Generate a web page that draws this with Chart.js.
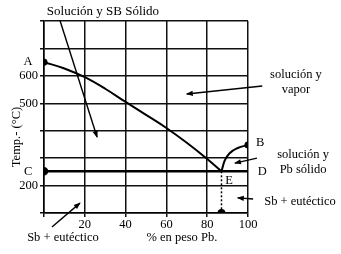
<!DOCTYPE html>
<html><head><meta charset="utf-8">
<script src="https://cdn.jsdelivr.net/npm/chart.js@4"></script>
<style>html,body{margin:0;padding:0;background:#fff}canvas{display:block}</style>
</head><body>
<canvas id="c" width="341" height="254"></canvas>
<script>
// ---- data ----
const xTickValues = [20, 40, 60, 80, 100];
const yTickLabels = [200, 500, 600];
const liquidusSbX = [0, 10, 20, 30, 40, 50, 60, 70, 80, 87];
const liquidusSbY = [650, 627, 595, 553, 505, 458, 410, 356, 297, 252];
const liquidusPbX = [87, 88.5, 91, 95, 100];
const liquidusPbY = [252, 290, 318, 337, 348];
const eutecticX = [0, 100];
const eutecticT = 252;
const eutecticComp = 87;
const pointA = [0, 650];
const pointB = [100, 348];
// annotation texts (data coordinates)
const labelTexts = ["Solución y SB Sólido", "A", "C", "solución y", "vapor", "B", "solución y", "Pb sólido", "D", "E", "Sb + eutéctico", "Sb + eutéctico", "% en peso Pb."];
const labelX = [28.9, -7.8, -7.8, 123.5, 123.5, 106, 127, 127, 107, 90.7, 125.5, 9.3, 67.6];
const labelY = [836, 650, 250, 603, 548, 355, 311, 257, 250, 217, 140, 9, 9];
// arrows: [fromX, fromY, toX, toY]
const arrowFromX = [7.8, 107, 104.4, 3.9, 102.5];
const arrowFromY = [803, 563, 300, 49, 151];
const arrowToX = [26, 70, 93.6, 17.6, 95];
const arrowToY = [377, 534, 282, 136, 155];

const FONT = "'Liberation Serif', 'Times New Roman', serif";
const pts = (xs, ys) => xs.map((v, i) => ({x: v, y: ys[i]}));

const annot = {
  id: 'annot',
  afterDraw(chart) {
    const {ctx, scales: {x, y}} = chart;
    ctx.save();
    ctx.fillStyle = '#000';
    ctx.strokeStyle = '#000';
    ctx.textAlign = 'center';
    ctx.textBaseline = 'middle';
    labelTexts.forEach((t, i) => {
      ctx.font = (i === 0 ? '13px ' : '12.5px ') + FONT;
      ctx.fillText(t, x.getPixelForValue(labelX[i]), y.getPixelForValue(labelY[i]));
    });
    // y title
    ctx.save();
    ctx.translate(17, (y.top + y.bottom) / 2 + 20);
    ctx.rotate(-Math.PI / 2);
    ctx.font = '12.5px ' + FONT;
    ctx.fillText('Temp.- (°C)', 0, 0);
    ctx.restore();
    // arrows
    ctx.lineWidth = 1.4;
    arrowFromX.forEach((fx, i) => {
      const x1 = x.getPixelForValue(fx), y1 = y.getPixelForValue(arrowFromY[i]);
      const x2 = x.getPixelForValue(arrowToX[i]), y2 = y.getPixelForValue(arrowToY[i]);
      const a = Math.atan2(y2 - y1, x2 - x1);
      ctx.beginPath(); ctx.moveTo(x1, y1); ctx.lineTo(x2, y2); ctx.stroke();
      const h = 6, w = 2.6;
      ctx.beginPath();
      ctx.moveTo(x2 + Math.cos(a) * 1, y2 + Math.sin(a) * 1);
      ctx.lineTo(x2 - Math.cos(a) * h - Math.sin(a) * w, y2 - Math.sin(a) * h + Math.cos(a) * w);
      ctx.lineTo(x2 - Math.cos(a) * h + Math.sin(a) * w, y2 - Math.sin(a) * h - Math.cos(a) * w);
      ctx.closePath(); ctx.fill();
    });
    ctx.restore();
  }
};

new Chart(document.getElementById('c'), {
  type: 'scatter',
  data: {
    datasets: [
      {data: pts(liquidusSbX, liquidusSbY), showLine: true, borderColor: '#000', borderWidth: 2, pointRadius: 0, tension: 0.4},
      {data: pts(liquidusPbX, liquidusPbY), showLine: true, borderColor: '#000', borderWidth: 2, pointRadius: 0, cubicInterpolationMode: 'monotone'},
      {data: eutecticX.map(v => ({x: v, y: eutecticT})), showLine: true, borderColor: '#000', borderWidth: 2.5, pointRadius: [3, 0], pointBackgroundColor: '#000', pointBorderColor: '#000'},
      {data: [{x: eutecticComp, y: eutecticT}, {x: eutecticComp, y: 100}], showLine: true, borderColor: '#000', borderWidth: 1.5, borderDash: [2, 2], pointRadius: [0, 3.2], pointBackgroundColor: '#000', pointBorderColor: '#000'},
      {data: [{x: pointA[0], y: pointA[1]}, {x: pointB[0], y: pointB[1]}], showLine: false, pointRadius: 3.2, pointBackgroundColor: '#000', pointBorderColor: '#000'}
    ]
  },
  options: {
    responsive: false,
    animation: false,
    devicePixelRatio: 1,
    layout: {padding: {left: 0, right: 93, top: 21, bottom: 0}},
    plugins: {legend: {display: false}, tooltip: {enabled: false}},
    scales: {
      x: {
        type: 'linear', min: 0, max: 100,
        afterFit: s => { s.height = 41; },
        ticks: {stepSize: 20, color: '#000', font: {family: FONT, size: 12.5}, padding: 0, maxRotation: 0,
          callback: v => xTickValues.includes(v) ? String(v) : ''},
        grid: {color: '#111', lineWidth: 1.5, tickLength: 4},
        border: {color: '#000', width: 1.5}
      },
      y: {
        type: 'linear', min: 100, max: 800,
        afterFit: s => { s.width = 44; },
        ticks: {stepSize: 100, color: '#000', font: {family: FONT, size: 12.5}, padding: 2,
          callback: v => yTickLabels.includes(v) ? String(v) : ''},
        grid: {color: '#111', lineWidth: 1.5, tickLength: 4},
        border: {color: '#000', width: 1.5}
      }
    }
  },
  plugins: [annot]
});
</script>
</body></html>
